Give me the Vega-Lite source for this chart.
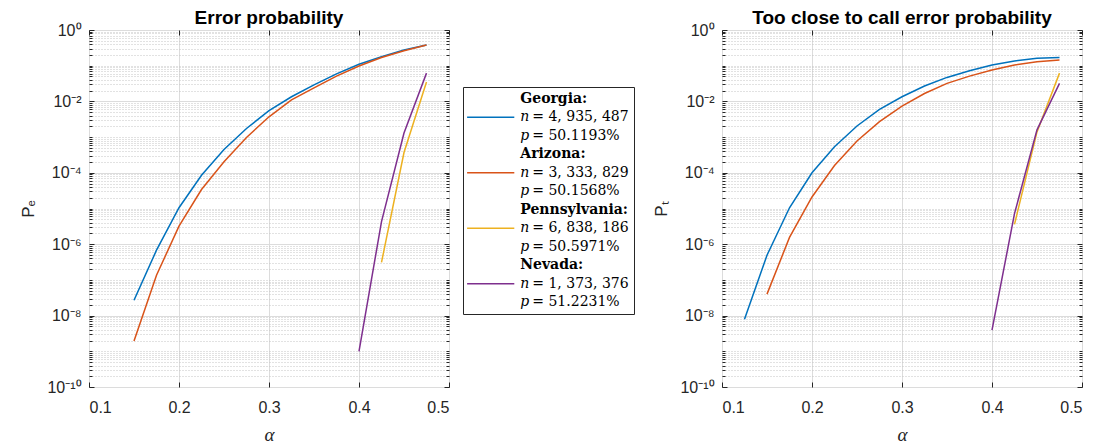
{
  "$schema": "https://vega.github.io/schema/vega-lite/v6.json",
  "padding": {"left": 19, "top": 8, "right": 5, "bottom": 0},
  "background": "white",
  "config": {
    "font": "Liberation Sans",
    "view": {"stroke": "#262626", "strokeWidth": 1},
    "axis": {
      "domain": false,
      "labelColor": "#262626",
      "labelFont": "Liberation Sans",
      "labelFontSize": 16,
      "titleColor": "#262626",
      "titleFontWeight": "normal",
      "tickColor": "#262626",
      "gridColor": "#dcdcdc"
    },
    "title": {"fontSize": 19, "fontWeight": "bold", "color": "#000000", "font": "Liberation Sans", "offset": -6}
  },
  "datasets": {
    "curves": [
      {"panel": "e", "state": "Georgia", "alpha": 0.15, "p": 2.7e-8},
      {"panel": "e", "state": "Georgia", "alpha": 0.175, "p": 6.8e-7},
      {"panel": "e", "state": "Georgia", "alpha": 0.2, "p": 1.05e-5},
      {"panel": "e", "state": "Georgia", "alpha": 0.225, "p": 8.5e-5},
      {"panel": "e", "state": "Georgia", "alpha": 0.25, "p": 4.5e-4},
      {"panel": "e", "state": "Georgia", "alpha": 0.275, "p": 1.74e-3},
      {"panel": "e", "state": "Georgia", "alpha": 0.3, "p": 5.5e-3},
      {"panel": "e", "state": "Georgia", "alpha": 0.325, "p": 1.35e-2},
      {"panel": "e", "state": "Georgia", "alpha": 0.35, "p": 2.9e-2},
      {"panel": "e", "state": "Georgia", "alpha": 0.375, "p": 5.9e-2},
      {"panel": "e", "state": "Georgia", "alpha": 0.4, "p": 0.11},
      {"panel": "e", "state": "Georgia", "alpha": 0.425, "p": 0.178},
      {"panel": "e", "state": "Georgia", "alpha": 0.45, "p": 0.275},
      {"panel": "e", "state": "Georgia", "alpha": 0.475, "p": 0.38},
      {"panel": "e", "state": "Arizona", "alpha": 0.15, "p": 1.95e-9},
      {"panel": "e", "state": "Arizona", "alpha": 0.175, "p": 1.35e-7},
      {"panel": "e", "state": "Arizona", "alpha": 0.2, "p": 3.2e-6},
      {"panel": "e", "state": "Arizona", "alpha": 0.225, "p": 3.4e-5},
      {"panel": "e", "state": "Arizona", "alpha": 0.25, "p": 2.05e-4},
      {"panel": "e", "state": "Arizona", "alpha": 0.275, "p": 9.8e-4},
      {"panel": "e", "state": "Arizona", "alpha": 0.3, "p": 3.7e-3},
      {"panel": "e", "state": "Arizona", "alpha": 0.325, "p": 1.1e-2},
      {"panel": "e", "state": "Arizona", "alpha": 0.35, "p": 2.4e-2},
      {"panel": "e", "state": "Arizona", "alpha": 0.375, "p": 5.1e-2},
      {"panel": "e", "state": "Arizona", "alpha": 0.4, "p": 0.098},
      {"panel": "e", "state": "Arizona", "alpha": 0.425, "p": 0.17},
      {"panel": "e", "state": "Arizona", "alpha": 0.45, "p": 0.263},
      {"panel": "e", "state": "Arizona", "alpha": 0.475, "p": 0.38},
      {"panel": "e", "state": "Pennsylvania", "alpha": 0.425, "p": 3.1e-7},
      {"panel": "e", "state": "Pennsylvania", "alpha": 0.45, "p": 3.7e-4},
      {"panel": "e", "state": "Pennsylvania", "alpha": 0.475, "p": 3.5e-2},
      {"panel": "e", "state": "Nevada", "alpha": 0.4, "p": 1.0e-9},
      {"panel": "e", "state": "Nevada", "alpha": 0.425, "p": 4.3e-6},
      {"panel": "e", "state": "Nevada", "alpha": 0.45, "p": 1.3e-3},
      {"panel": "e", "state": "Nevada", "alpha": 0.475, "p": 6.2e-2},
      {"panel": "t", "state": "Georgia", "alpha": 0.125, "p": 7.9e-9},
      {"panel": "t", "state": "Georgia", "alpha": 0.15, "p": 4.9e-7},
      {"panel": "t", "state": "Georgia", "alpha": 0.175, "p": 1.05e-5},
      {"panel": "t", "state": "Georgia", "alpha": 0.2, "p": 1.0e-4},
      {"panel": "t", "state": "Georgia", "alpha": 0.225, "p": 5.4e-4},
      {"panel": "t", "state": "Georgia", "alpha": 0.25, "p": 2.05e-3},
      {"panel": "t", "state": "Georgia", "alpha": 0.275, "p": 6.0e-3},
      {"panel": "t", "state": "Georgia", "alpha": 0.3, "p": 1.35e-2},
      {"panel": "t", "state": "Georgia", "alpha": 0.325, "p": 2.7e-2},
      {"panel": "t", "state": "Georgia", "alpha": 0.35, "p": 4.7e-2},
      {"panel": "t", "state": "Georgia", "alpha": 0.375, "p": 7.2e-2},
      {"panel": "t", "state": "Georgia", "alpha": 0.4, "p": 0.105},
      {"panel": "t", "state": "Georgia", "alpha": 0.425, "p": 0.135},
      {"panel": "t", "state": "Georgia", "alpha": 0.45, "p": 0.162},
      {"panel": "t", "state": "Georgia", "alpha": 0.475, "p": 0.17},
      {"panel": "t", "state": "Arizona", "alpha": 0.15, "p": 4.0e-8},
      {"panel": "t", "state": "Arizona", "alpha": 0.175, "p": 1.55e-6},
      {"panel": "t", "state": "Arizona", "alpha": 0.2, "p": 2.1e-5},
      {"panel": "t", "state": "Arizona", "alpha": 0.225, "p": 1.6e-4},
      {"panel": "t", "state": "Arizona", "alpha": 0.25, "p": 7.8e-4},
      {"panel": "t", "state": "Arizona", "alpha": 0.275, "p": 2.7e-3},
      {"panel": "t", "state": "Arizona", "alpha": 0.3, "p": 7.4e-3},
      {"panel": "t", "state": "Arizona", "alpha": 0.325, "p": 1.66e-2},
      {"panel": "t", "state": "Arizona", "alpha": 0.35, "p": 3.2e-2},
      {"panel": "t", "state": "Arizona", "alpha": 0.375, "p": 5.1e-2},
      {"panel": "t", "state": "Arizona", "alpha": 0.4, "p": 7.6e-2},
      {"panel": "t", "state": "Arizona", "alpha": 0.425, "p": 0.105},
      {"panel": "t", "state": "Arizona", "alpha": 0.45, "p": 0.129},
      {"panel": "t", "state": "Arizona", "alpha": 0.475, "p": 0.145},
      {"panel": "t", "state": "Pennsylvania", "alpha": 0.425, "p": 3.6e-6},
      {"panel": "t", "state": "Pennsylvania", "alpha": 0.45, "p": 1.4e-3},
      {"panel": "t", "state": "Pennsylvania", "alpha": 0.475, "p": 6.2e-2},
      {"panel": "t", "state": "Nevada", "alpha": 0.4, "p": 3.9e-9},
      {"panel": "t", "state": "Nevada", "alpha": 0.425, "p": 7.2e-6},
      {"panel": "t", "state": "Nevada", "alpha": 0.45, "p": 1.6e-3},
      {"panel": "t", "state": "Nevada", "alpha": 0.475, "p": 3.2e-2}
    ],
    "legend": [
      {"key": "G0", "state": "Georgia", "kind": "title", "var": "", "text": "Georgia:"},
      {"key": "G1", "state": "Georgia", "kind": "n", "var": "n", "text": "= 4, 935, 487"},
      {"key": "G2", "state": "Georgia", "kind": "p", "var": "p", "text": "= 50.1193%"},
      {"key": "A0", "state": "Arizona", "kind": "title", "var": "", "text": "Arizona:"},
      {"key": "A1", "state": "Arizona", "kind": "n", "var": "n", "text": "= 3, 333, 829"},
      {"key": "A2", "state": "Arizona", "kind": "p", "var": "p", "text": "= 50.1568%"},
      {"key": "P0", "state": "Pennsylvania", "kind": "title", "var": "", "text": "Pennsylvania:"},
      {"key": "P1", "state": "Pennsylvania", "kind": "n", "var": "n", "text": "= 6, 838, 186"},
      {"key": "P2", "state": "Pennsylvania", "kind": "p", "var": "p", "text": "= 50.5971%"},
      {"key": "N0", "state": "Nevada", "kind": "title", "var": "", "text": "Nevada:"},
      {"key": "N1", "state": "Nevada", "kind": "n", "var": "n", "text": "= 1, 373, 376"},
      {"key": "N2", "state": "Nevada", "kind": "p", "var": "p", "text": "= 51.2231%"}
    ]
  },
  "hconcat": [
    {
      "hconcat": [
        {
          "title": "Error probability",
          "width": 360,
          "height": 357,
          "data": {"name": "curves"},
          "transform": [{"filter": "datum.panel == 'e'"}],
          "resolve": {"axis": {"x": "independent", "y": "independent"}},
          "layer": [
            {
              "mark": {"type": "line", "strokeWidth": 1.5, "clip": true},
              "encoding": {
                "x": {
                  "field": "alpha", "type": "quantitative",
                  "scale": {"domain": [0.1, 0.5], "nice": false, "zero": false},
                  "axis": {
                    "values": [0.1, 0.2, 0.3, 0.4, 0.5], "format": ".1f",
                    "tickSize": -5, "labelPadding": 17,
                    "title": "α", "titleFont": "Liberation Serif", "titleFontStyle": "italic", "titleFontSize": 19, "titlePadding": 10
                  }
                },
                "y": {
                  "field": "p", "type": "quantitative",
                  "scale": {"type": "log", "domain": [1e-10, 1], "nice": false},
                  "axis": {
                    "values": [1e-10,2e-10,3e-10,4e-10,5e-10,6e-10,7e-10,8e-10,9e-10,1e-9,2e-9,3e-9,4e-9,5e-9,6e-9,7e-9,8e-9,9e-9,1e-8,2e-8,3e-8,4e-8,5e-8,6e-8,7e-8,8e-8,9e-8,1e-7,2e-7,3e-7,4e-7,5e-7,6e-7,7e-7,8e-7,9e-7,1e-6,2e-6,3e-6,4e-6,5e-6,6e-6,7e-6,8e-6,9e-6,1e-5,2e-5,3e-5,4e-5,5e-5,6e-5,7e-5,8e-5,9e-5,1e-4,2e-4,3e-4,4e-4,5e-4,6e-4,7e-4,8e-4,9e-4,1e-3,2e-3,3e-3,4e-3,5e-3,6e-3,7e-3,8e-3,9e-3,1e-2,2e-2,3e-2,4e-2,5e-2,6e-2,7e-2,8e-2,9e-2,0.1,0.2,0.3,0.4,0.5,0.6,0.7,0.8,0.9,1],
                    "labelExpr": "abs(log(datum.value)/LN10 - round(log(datum.value)/LN10)) > 1e-6 ? '' : (round(log(datum.value)/LN10) == 0 ? '10⁰' : round(log(datum.value)/LN10) == -2 ? '10⁻²' : round(log(datum.value)/LN10) == -4 ? '10⁻⁴' : round(log(datum.value)/LN10) == -6 ? '10⁻⁶' : round(log(datum.value)/LN10) == -8 ? '10⁻⁸' : round(log(datum.value)/LN10) == -10 ? '10⁻¹⁰' : '')",
                    "labelPadding": 13,
                    "tickSize": {"condition": {"test": "abs(log(datum.value)/LN10 - round(log(datum.value)/LN10)) < 1e-6 && round(log(datum.value)/LN10) % 2 == 0", "value": -5}, "value": -3},
                    "gridDash": {"condition": {"test": "abs(log(datum.value)/LN10 - round(log(datum.value)/LN10)) < 1e-6 && round(log(datum.value)/LN10) % 2 == 0", "value": []}, "value": [1, 2]},
                    "gridColor": {"condition": {"test": "abs(log(datum.value)/LN10 - round(log(datum.value)/LN10)) < 1e-6 && round(log(datum.value)/LN10) % 2 == 0", "value": "#dcdcdc"}, "value": "#c4c4c4"},
                    "title": "Pₑ", "titleFontSize": 17, "titlePadding": 9
                  }
                },
                "color": {
                  "field": "state", "type": "nominal",
                  "scale": {"domain": ["Georgia", "Arizona", "Pennsylvania", "Nevada"], "range": ["#0072BD", "#D95319", "#EDB120", "#7E2F8E"]},
                  "legend": null
                }
              }
            },
            {
              "mark": {"type": "line", "strokeOpacity": 0},
              "encoding": {
                "x": {
                  "field": "alpha", "type": "quantitative",
                  "scale": {"domain": [0.1, 0.5], "nice": false, "zero": false},
                  "axis": {"orient": "top", "values": [0.1, 0.2, 0.3, 0.4, 0.5], "labels": false, "title": null, "grid": false, "tickSize": -5}
                },
                "y": {
                  "field": "p", "type": "quantitative",
                  "scale": {"type": "log", "domain": [1e-10, 1], "nice": false},
                  "axis": {
                    "orient": "right", "labels": false, "title": null, "grid": false,
                    "values": [1e-10,2e-10,3e-10,4e-10,5e-10,6e-10,7e-10,8e-10,9e-10,1e-9,2e-9,3e-9,4e-9,5e-9,6e-9,7e-9,8e-9,9e-9,1e-8,2e-8,3e-8,4e-8,5e-8,6e-8,7e-8,8e-8,9e-8,1e-7,2e-7,3e-7,4e-7,5e-7,6e-7,7e-7,8e-7,9e-7,1e-6,2e-6,3e-6,4e-6,5e-6,6e-6,7e-6,8e-6,9e-6,1e-5,2e-5,3e-5,4e-5,5e-5,6e-5,7e-5,8e-5,9e-5,1e-4,2e-4,3e-4,4e-4,5e-4,6e-4,7e-4,8e-4,9e-4,1e-3,2e-3,3e-3,4e-3,5e-3,6e-3,7e-3,8e-3,9e-3,1e-2,2e-2,3e-2,4e-2,5e-2,6e-2,7e-2,8e-2,9e-2,0.1,0.2,0.3,0.4,0.5,0.6,0.7,0.8,0.9,1],
                    "tickSize": {"condition": {"test": "abs(log(datum.value)/LN10 - round(log(datum.value)/LN10)) < 1e-6 && round(log(datum.value)/LN10) % 2 == 0", "value": -5}, "value": -3}
                  }
                },
                "detail": {"field": "state", "type": "nominal"}
              }
            }
          ]
        },
        {
          "vconcat": [
            {
              "width": 171,
              "height": 43,
              "view": {"stroke": null},
              "data": {"values": [{"t": ""}]},
              "mark": {"type": "text"},
              "encoding": {"text": {"field": "t"}}
            },
            {
              "width": 171,
              "height": 227,
              "data": {"name": "legend"},
              "encoding": {
                "y": {
                  "field": "key", "type": "nominal",
                  "scale": {"type": "point", "padding": 0.63, "domain": ["G0","G1","G2","A0","A1","A2","P0","P1","P2","N0","N1","N2"]},
                  "axis": null
                }
              },
              "layer": [
                {
                  "transform": [{"filter": "datum.kind == 'n'"}],
                  "mark": {"type": "rule", "strokeWidth": 1.5},
                  "encoding": {
                    "x": {"datum": 0.024, "type": "quantitative", "scale": {"domain": [0, 1]}, "axis": null},
                    "x2": {"datum": 0.3},
                    "color": {
                      "field": "state", "type": "nominal",
                      "scale": {"domain": ["Georgia", "Arizona", "Pennsylvania", "Nevada"], "range": ["#0072BD", "#D95319", "#EDB120", "#7E2F8E"]},
                      "legend": null
                    }
                  }
                },
                {
                  "transform": [{"filter": "datum.kind == 'title'"}],
                  "mark": {"type": "text", "align": "left", "baseline": "middle", "font": "DejaVu Serif", "fontWeight": "bold", "fontSize": 14, "color": "#000000"},
                  "encoding": {
                    "x": {"datum": 0.335, "type": "quantitative"},
                    "text": {"field": "text"}
                  }
                },
                {
                  "transform": [{"filter": "datum.kind != 'title'"}],
                  "mark": {"type": "text", "align": "left", "baseline": "middle", "font": "DejaVu Serif", "fontStyle": "italic", "fontSize": 14, "color": "#000000"},
                  "encoding": {
                    "x": {"datum": 0.335, "type": "quantitative"},
                    "text": {"field": "var"}
                  }
                },
                {
                  "transform": [{"filter": "datum.kind != 'title'"}],
                  "mark": {"type": "text", "align": "left", "baseline": "middle", "font": "DejaVu Serif", "fontSize": 14, "dx": 12, "color": "#000000"},
                  "encoding": {
                    "x": {"datum": 0.335, "type": "quantitative"},
                    "text": {"field": "text"}
                  }
                }
              ]
            }
          ],
          "spacing": 13
        }
      ],
      "spacing": 12
    },
    {
      "title": "Too close to call error probability",
      "width": 360,
      "height": 357,
      "data": {"name": "curves"},
      "transform": [{"filter": "datum.panel == 't'"}],
      "resolve": {"axis": {"x": "independent", "y": "independent"}},
      "layer": [
        {
          "mark": {"type": "line", "strokeWidth": 1.5, "clip": true},
          "encoding": {
            "x": {
              "field": "alpha", "type": "quantitative",
              "scale": {"domain": [0.1, 0.5], "nice": false, "zero": false},
              "axis": {
                "values": [0.1, 0.2, 0.3, 0.4, 0.5], "format": ".1f",
                "tickSize": -5, "labelPadding": 17,
                "title": "α", "titleFont": "Liberation Serif", "titleFontStyle": "italic", "titleFontSize": 19, "titlePadding": 10
              }
            },
            "y": {
              "field": "p", "type": "quantitative",
              "scale": {"type": "log", "domain": [1e-10, 1], "nice": false},
              "axis": {
                "values": [1e-10,2e-10,3e-10,4e-10,5e-10,6e-10,7e-10,8e-10,9e-10,1e-9,2e-9,3e-9,4e-9,5e-9,6e-9,7e-9,8e-9,9e-9,1e-8,2e-8,3e-8,4e-8,5e-8,6e-8,7e-8,8e-8,9e-8,1e-7,2e-7,3e-7,4e-7,5e-7,6e-7,7e-7,8e-7,9e-7,1e-6,2e-6,3e-6,4e-6,5e-6,6e-6,7e-6,8e-6,9e-6,1e-5,2e-5,3e-5,4e-5,5e-5,6e-5,7e-5,8e-5,9e-5,1e-4,2e-4,3e-4,4e-4,5e-4,6e-4,7e-4,8e-4,9e-4,1e-3,2e-3,3e-3,4e-3,5e-3,6e-3,7e-3,8e-3,9e-3,1e-2,2e-2,3e-2,4e-2,5e-2,6e-2,7e-2,8e-2,9e-2,0.1,0.2,0.3,0.4,0.5,0.6,0.7,0.8,0.9,1],
                "labelExpr": "abs(log(datum.value)/LN10 - round(log(datum.value)/LN10)) > 1e-6 ? '' : (round(log(datum.value)/LN10) == 0 ? '10⁰' : round(log(datum.value)/LN10) == -2 ? '10⁻²' : round(log(datum.value)/LN10) == -4 ? '10⁻⁴' : round(log(datum.value)/LN10) == -6 ? '10⁻⁶' : round(log(datum.value)/LN10) == -8 ? '10⁻⁸' : round(log(datum.value)/LN10) == -10 ? '10⁻¹⁰' : '')",
                "labelPadding": 13,
                "tickSize": {"condition": {"test": "abs(log(datum.value)/LN10 - round(log(datum.value)/LN10)) < 1e-6 && round(log(datum.value)/LN10) % 2 == 0", "value": -5}, "value": -3},
                "gridDash": {"condition": {"test": "abs(log(datum.value)/LN10 - round(log(datum.value)/LN10)) < 1e-6 && round(log(datum.value)/LN10) % 2 == 0", "value": []}, "value": [1, 2]},
                "gridColor": {"condition": {"test": "abs(log(datum.value)/LN10 - round(log(datum.value)/LN10)) < 1e-6 && round(log(datum.value)/LN10) % 2 == 0", "value": "#dcdcdc"}, "value": "#c4c4c4"},
                "title": "Pₜ", "titleFontSize": 17, "titlePadding": 9
              }
            },
            "color": {
              "field": "state", "type": "nominal",
              "scale": {"domain": ["Georgia", "Arizona", "Pennsylvania", "Nevada"], "range": ["#0072BD", "#D95319", "#EDB120", "#7E2F8E"]},
              "legend": null
            }
          }
        },
        {
          "mark": {"type": "line", "strokeOpacity": 0},
          "encoding": {
            "x": {
              "field": "alpha", "type": "quantitative",
              "scale": {"domain": [0.1, 0.5], "nice": false, "zero": false},
              "axis": {"orient": "top", "values": [0.1, 0.2, 0.3, 0.4, 0.5], "labels": false, "title": null, "grid": false, "tickSize": -5}
            },
            "y": {
              "field": "p", "type": "quantitative",
              "scale": {"type": "log", "domain": [1e-10, 1], "nice": false},
              "axis": {
                "orient": "right", "labels": false, "title": null, "grid": false,
                "values": [1e-10,2e-10,3e-10,4e-10,5e-10,6e-10,7e-10,8e-10,9e-10,1e-9,2e-9,3e-9,4e-9,5e-9,6e-9,7e-9,8e-9,9e-9,1e-8,2e-8,3e-8,4e-8,5e-8,6e-8,7e-8,8e-8,9e-8,1e-7,2e-7,3e-7,4e-7,5e-7,6e-7,7e-7,8e-7,9e-7,1e-6,2e-6,3e-6,4e-6,5e-6,6e-6,7e-6,8e-6,9e-6,1e-5,2e-5,3e-5,4e-5,5e-5,6e-5,7e-5,8e-5,9e-5,1e-4,2e-4,3e-4,4e-4,5e-4,6e-4,7e-4,8e-4,9e-4,1e-3,2e-3,3e-3,4e-3,5e-3,6e-3,7e-3,8e-3,9e-3,1e-2,2e-2,3e-2,4e-2,5e-2,6e-2,7e-2,8e-2,9e-2,0.1,0.2,0.3,0.4,0.5,0.6,0.7,0.8,0.9,1],
                "tickSize": {"condition": {"test": "abs(log(datum.value)/LN10 - round(log(datum.value)/LN10)) < 1e-6 && round(log(datum.value)/LN10) % 2 == 0", "value": -5}, "value": -3}
              }
            },
            "detail": {"field": "state", "type": "nominal"}
          }
        }
      ]
    }
  ],
  "spacing": 17
}
